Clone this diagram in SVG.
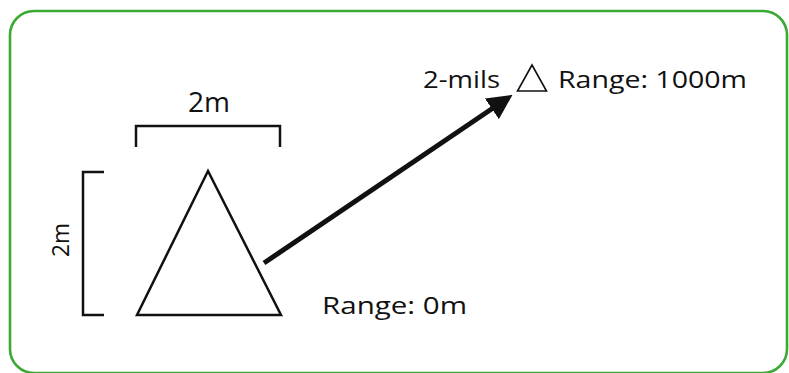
<svg xmlns="http://www.w3.org/2000/svg" width="789" height="373" viewBox="0 0 789 373">
<defs>
<style>
.t{font-family:"Open Sans","Liberation Sans",sans-serif;font-size:23px;fill:#111}
.ln{fill:none;stroke:#111;stroke-width:2.5}
</style>
<marker id="ah" viewBox="0 0 10 10" refX="2" refY="5" markerWidth="5" markerHeight="5" orient="auto" markerUnits="strokeWidth">
<path d="M0,0 L10,5 L0,10 z" fill="#111"/>
</marker>
</defs>
<rect x="10" y="11" width="777" height="362" rx="24" fill="#fff" stroke="#3aaa35" stroke-width="2.6"/>
<g id="big-triangle">
<path class="ln" d="M208,171 L137,315 L281,315 Z" stroke-linejoin="miter"/>
</g>
<g id="width-dim">
<path class="ln" d="M136,147 V126 H280 V147"/>
<text class="t" x="188" y="112" style="font-size:27px" textLength="42" lengthAdjust="spacingAndGlyphs">2m</text>
</g>
<g id="height-dim">
<path class="ln" d="M104,172 H83 V315 H104"/>
<text class="t" transform="translate(69,257) rotate(-90)" style="font-size:24px" textLength="34" lengthAdjust="spacingAndGlyphs">2m</text>
</g>
<g id="range0">
<text class="t" x="322" y="314" textLength="145" lengthAdjust="spacingAndGlyphs">Range: 0m</text>
</g>
<g id="far-target">
<text class="t" x="423" y="88" textLength="77" lengthAdjust="spacingAndGlyphs">2-mils</text>
<path d="M532,65 L517.5,91 L546.5,91 Z" fill="none" stroke="#111" stroke-width="1.6"/>
<text class="t" x="558" y="88" textLength="189" lengthAdjust="spacingAndGlyphs">Range: 1000m</text>
</g>
<g id="connectors">
<line x1="264" y1="263" x2="496" y2="106" stroke="#111" stroke-width="5" marker-end="url(#ah)"/>
</g>
</svg>
